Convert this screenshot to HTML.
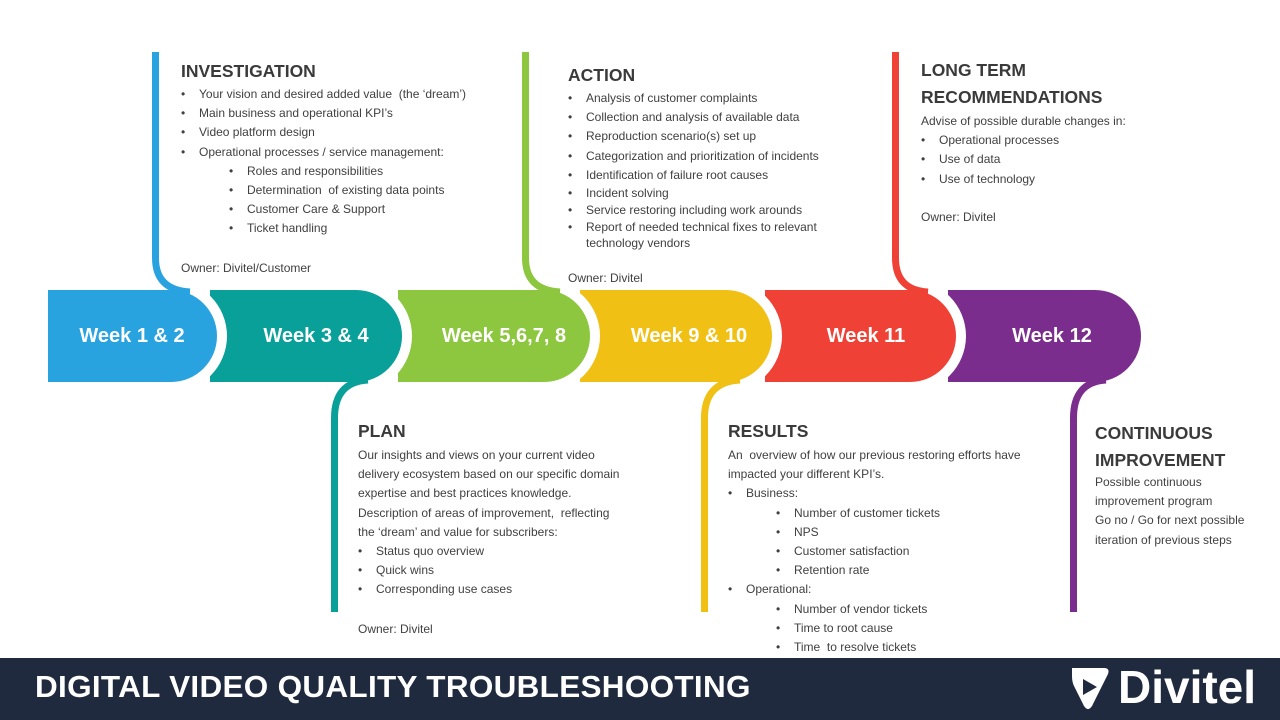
<!DOCTYPE html>
<html><head><meta charset="utf-8"><style>
body{margin:0;width:1280px;height:720px;overflow:hidden;background:#fff;font-family:"Liberation Sans",sans-serif;color:#404040;position:relative}
.t{position:absolute;font-size:12px;line-height:19.2px;white-space:nowrap}
.h{font-weight:bold;font-size:17.5px;line-height:27px;color:#3a3a3a}
ul{margin:0;padding:0;list-style:none}
li{position:relative;padding-left:18px}
li:before{content:"•";position:absolute;left:0}
li.s{padding-left:66px}
li.s:before{left:48px}
.w{position:absolute;top:325px;color:#fff;font-weight:bold;font-size:20px;text-align:center;width:180px}
.foot{position:absolute;left:0;top:658px;width:1280px;height:62px;background:#1f2a3e}
</style></head><body>
<svg width="1280" height="720" style="position:absolute;left:0;top:0">
<g>
<circle cx="1095" cy="336" r="56" fill="#fff"/><rect x="948" y="290" width="147" height="92" fill="#7b2d8e"/><circle cx="1095" cy="336" r="46" fill="#7b2d8e"/>
<circle cx="910" cy="336" r="56" fill="#fff"/><rect x="765" y="290" width="145" height="92" fill="#ef4136"/><circle cx="910" cy="336" r="46" fill="#ef4136"/>
<circle cx="726" cy="336" r="56" fill="#fff"/><rect x="580" y="290" width="146" height="92" fill="#f0c015"/><circle cx="726" cy="336" r="46" fill="#f0c015"/>
<circle cx="544" cy="336" r="56" fill="#fff"/><rect x="398" y="290" width="146" height="92" fill="#8dc63f"/><circle cx="544" cy="336" r="46" fill="#8dc63f"/>
<circle cx="356" cy="336" r="56" fill="#fff"/><rect x="210" y="290" width="146" height="92" fill="#0aa09a"/><circle cx="356" cy="336" r="46" fill="#0aa09a"/>
<circle cx="171" cy="336" r="56" fill="#fff"/><rect x="48" y="290" width="123" height="92" fill="#29a3df"/><circle cx="171" cy="336" r="46" fill="#29a3df"/>
</g>
<g fill="none" stroke-width="7">
<path d="M155.5 52 V258 Q155.5 290 190 292" stroke="#29a3df"/>
<path d="M525.5 52 V258 Q525.5 290 560 292" stroke="#8dc63f"/>
<path d="M895.5 52 V258 Q895.5 290 928 292" stroke="#ef4136"/>
<path d="M334.5 612 V418 Q334.5 382 368 380" stroke="#0aa09a"/>
<path d="M704.5 612 V418 Q704.5 382 740 380" stroke="#f0c015"/>
<path d="M1073.5 612 V418 Q1073.5 382 1106 380" stroke="#7b2d8e"/>
</g>
</svg>
<div class="w" style="left:42px">Week 1 &amp; 2</div>
<div class="w" style="left:226px">Week 3 &amp; 4</div>
<div class="w" style="left:414px">Week 5,6,7, 8</div>
<div class="w" style="left:599px">Week 9 &amp; 10</div>
<div class="w" style="left:776px">Week 11</div>
<div class="w" style="left:962px">Week 12</div>

<div class="t" style="left:181px;top:58px"><div class="h">INVESTIGATION</div>
<ul style="margin-top:0px"><li>Your vision and desired added value &nbsp;(the ‘dream’)</li><li>Main business and operational KPI’s</li><li>Video platform design</li><li>Operational processes / service management:</li>
<li class="s">Roles and responsibilities</li><li class="s">Determination &nbsp;of existing data points</li><li class="s">Customer Care &amp; Support</li><li class="s">Ticket handling</li></ul>
<div style="margin-top:20px">Owner: Divitel/Customer</div></div>

<div class="t" style="left:568px;top:62px"><div class="h">ACTION</div>
<ul style="margin-top:0px"><li>Analysis of customer complaints</li><li>Collection and analysis of available data</li><li>Reproduction scenario(s) set up</li><li>Categorization and prioritization of incidents</li><li>Identification of failure root causes</li><li style="line-height:17px">Incident solving</li><li style="line-height:17px">Service restoring including work arounds</li><li style="line-height:16px">Report of needed technical fixes to relevant<br>technology vendors</li></ul>
<div style="margin-top:18px">Owner: Divitel</div></div>

<div class="t" style="left:921px;top:57px"><div class="h">LONG TERM<br>RECOMMENDATIONS</div>
<div style="margin-top:1px">Advise of possible durable changes in:</div>
<ul><li>Operational processes</li><li>Use of data</li><li>Use of technology</li></ul>
<div style="margin-top:19px">Owner: Divitel</div></div>

<div class="t" style="left:358px;top:418px"><div class="h">PLAN</div>
<div style="margin-top:1px">Our insights and views on your current video<br>delivery ecosystem based on our specific domain<br>expertise and best practices knowledge.<br>Description of areas of improvement, &nbsp;reflecting<br>the ‘dream’ and value for subscribers:</div>
<ul><li>Status quo overview</li><li>Quick wins</li><li>Corresponding use cases</li></ul>
<div style="margin-top:20px">Owner: Divitel</div></div>

<div class="t" style="left:728px;top:418px"><div class="h">RESULTS</div>
<div style="margin-top:1px">An &nbsp;overview of how our previous restoring efforts have<br>impacted your different KPI’s.</div>
<ul><li>Business:</li><li class="s">Number of customer tickets</li><li class="s">NPS</li><li class="s">Customer satisfaction</li><li class="s">Retention rate</li><li>Operational:</li><li class="s">Number of vendor tickets</li><li class="s">Time to root cause</li><li class="s">Time &nbsp;to resolve tickets</li></ul>
<div>Owner: Divitel</div></div>

<div class="t" style="left:1095px;top:420px"><div class="h">CONTINUOUS<br>IMPROVEMENT</div>
<div style="margin-top:-1px">Possible continuous<br>improvement program<br>Go no / Go for next possible<br>iteration of previous steps</div></div>

<div class="foot">
<div style="position:absolute;left:35px;top:11px;color:#fff;font-weight:bold;font-size:31px;letter-spacing:0.3px;transform:scaleX(1.015);transform-origin:left;white-space:nowrap">DIGITAL VIDEO QUALITY TROUBLESHOOTING</div>
<svg width="40" height="46" style="position:absolute;left:1070px;top:8px"><path d="M2 2 H34 Q40 2 38 8 L22 40 Q18 46 14 40 L4 20 Q2 16 2 10 Z" fill="#fff"/><path d="M13 13 L27 21 L13 29 Z" fill="#1f2a3e"/></svg>
<div style="position:absolute;left:1118px;top:2px;color:#fff;font-weight:bold;font-size:46px;letter-spacing:0px">Divitel</div>
</div>
</body></html>
